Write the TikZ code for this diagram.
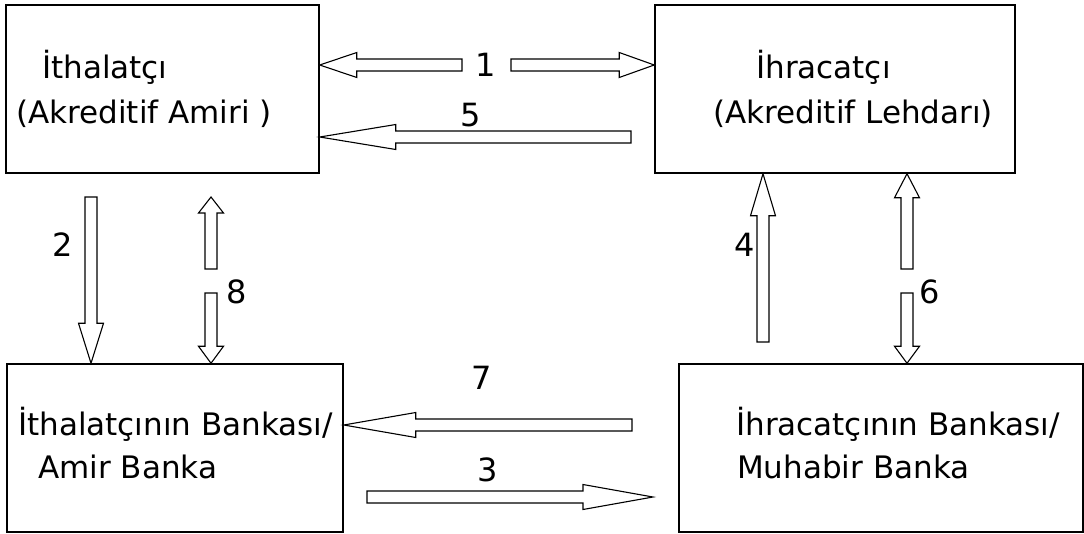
\documentclass[tikz,border=0pt]{standalone}
\usepackage{fontspec}
\setmainfont{DejaVu Sans}
\usetikzlibrary{calc}

% hollow block arrow: #1 head length, #2 tail, #3 tip
\newcommand{\flowarrow}[3]{%
  \coordinate (hb) at ($(#3)!#1!(#2)$);
  \draw[arrowline] ($(#2)!6pt!90:(#3)$) -- ($(hb)!6pt!-90:(#2)$)
    -- ($(hb)!12.5pt!-90:(#2)$) -- (#3) -- ($(hb)!12.5pt!90:(#2)$)
    -- ($(hb)!6pt!90:(#2)$) -- ($(#2)!6pt!-90:(#3)$) -- cycle;
}

\begin{document}
\begin{tikzpicture}[x=1pt, y=-1pt,
    box/.style={draw, line width=1.5pt, minimum height=168pt, inner sep=0pt},
    arrowline/.style={draw, line width=1.1pt, fill=white, line join=miter},
    txt/.style={anchor=base west, inner sep=0pt, font=\fontsize{31}{36}\selectfont},
    num/.style={inner sep=0pt, font=\fontsize{32}{38}\selectfont}]

    \useasboundingbox (0,0) rectangle (1084,533);

    \node[box, minimum width=313pt] (imp)  at (162.5,89) {};
    \node[box, minimum width=360pt] (exp)  at (835,89)   {};
    \node[box, minimum width=336pt] (impB) at (175,448)  {};
    \node[box, minimum width=404pt] (expB) at (881,448)  {};

    \node[txt] (impT1)  at (42,78)   {İthalatçı};
    \node[txt] (impT2)  at (16,123)  {(Akreditif Amiri )};
    \node[txt] (expT1)  at (756,78)  {İhracatçı};
    \node[txt] (expT2)  at (713,123) {(Akreditif Lehdarı)};
    \node[txt] (impBT1) at (18,435)  {İthalatçının Bankası/};
    \node[txt] (impBT2) at (38,478)  {Amir Banka};
    \node[txt] (expBT1) at (736,435) {İhracatçının Bankası/};
    \node[txt] (expBT2) at (737,478) {Muhabir Banka};

    % tails and free tips
    \coordinate (t1l) at (462,65);
    \coordinate (t1r) at (511,65);
    \coordinate (t5)  at (631,137);
    \coordinate (t2)  at (91,197);
    \coordinate (t8u) at (211,269);
    \coordinate (h8u) at (211,197);
    \coordinate (t8d) at (211,293);
    \coordinate (t4)  at (763,342);
    \coordinate (t6u) at (907,269);
    \coordinate (t6d) at (907,293);
    \coordinate (t7)  at (632,425);
    \coordinate (t3)  at (367,497);
    \coordinate (h3)  at (653,497);

    % tips on the boxes
    \coordinate (h1l) at (imp.east |- t1l);
    \coordinate (h1r) at (exp.west |- t1r);
    \coordinate (h5)  at (imp.east |- t5);
    \coordinate (h2)  at (t2 |- impB.north);
    \coordinate (h8d) at (t8d |- impB.north);
    \coordinate (h4)  at (t4 |- exp.south);
    \coordinate (h6u) at (t6u |- exp.south);
    \coordinate (h6d) at (t6d |- expB.north);
    \coordinate (h7)  at (impB.east |- t7);

    \flowarrow{37pt}{t1l}{h1l}
    \flowarrow{35pt}{t1r}{h1r}
    \flowarrow{76pt}{t5}{h5}
    \flowarrow{40pt}{t2}{h2}
    \flowarrow{16pt}{t8u}{h8u}
    \flowarrow{17pt}{t8d}{h8d}
    \flowarrow{42pt}{t4}{h4}
    \flowarrow{24pt}{t6u}{h6u}
    \flowarrow{17pt}{t6d}{h6d}
    \flowarrow{72pt}{t7}{h7}
    \flowarrow{70pt}{t3}{h3}

    \node[num] (n1) at (486,65)  {1};
    \node[num] (n5) at (471,115) {5};
    \node[num] (n2) at (63,245)  {2};
    \node[num] (n8) at (237,292) {8};
    \node[num] (n4) at (745,245) {4};
    \node[num] (n6) at (930,292) {6};
    \node[num] (n7) at (482,378) {7};
    \node[num] (n3) at (488,470) {3};
\end{tikzpicture}
\end{document}
